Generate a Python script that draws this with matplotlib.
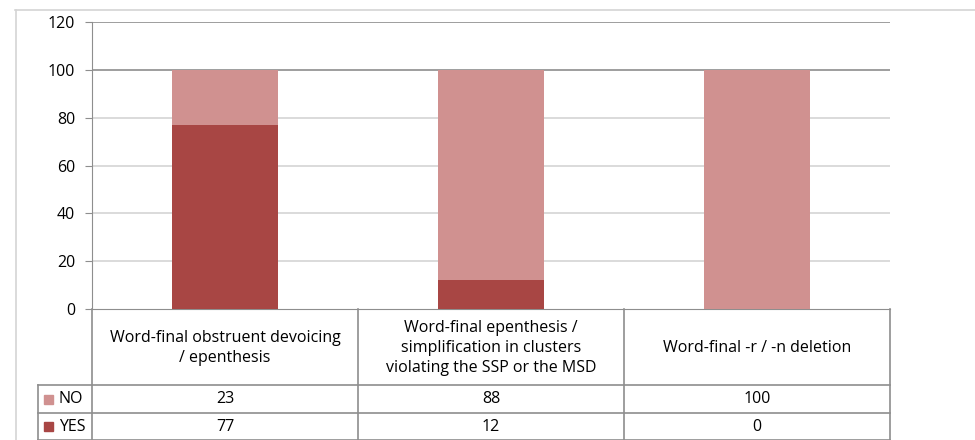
import matplotlib
matplotlib.use("Agg")
import matplotlib.pyplot as plt
from matplotlib.lines import Line2D
from matplotlib.patches import Rectangle

plt.rcParams['font.family'] = ['Open Sans', 'DejaVu Sans']

categories = ["Word-final obstruent devoicing\n/ epenthesis",
              "Word-final epenthesis /\nsimplification in clusters\nviolating the SSP or the MSD",
              "Word-final -r / -n deletion"]
series_names = ["NO", "YES"]
no_vals = [23, 88, 100]
yes_vals = [77, 12, 0]
yticks = [0, 20, 40, 60, 80, 100, 120]

c_no = "#d09190"
c_yes = "#a84644"
grid_light = "#d4d4d4"
grid_dark = "#8e8e8e"
tc = "#8e8e8e"
fs = 11.5

W, H = 975, 440
fig = plt.figure(figsize=(W / 100, H / 100), dpi=100)

# pixel helpers (pixels from top-left)
def fx(px): return px / W
def fy(py): return 1 - py / H

x0, x1 = 92, 890
ytop, ybot = 22, 309
ax = fig.add_axes([fx(x0), fy(ybot), fx(x1) - fx(x0), fy(ytop) - fy(ybot)])
ax.set_xlim(-0.5, 2.5)
ax.set_ylim(0, 120)
xs = range(len(categories))
ax.bar(xs, yes_vals, width=0.395, color=c_yes, zorder=3)
ax.bar(xs, no_vals, width=0.395, bottom=yes_vals, color=c_no, zorder=3)
for v in yticks[1:]:
    col = grid_dark if v >= 100 else grid_light
    ax.axhline(v, color=col, lw=1.2, zorder=1)
for s in ["top", "right"]:
    ax.spines[s].set_visible(False)
ax.spines["left"].set_color(tc)
ax.spines["bottom"].set_color(tc)
ax.set_yticks(yticks)
ax.set_yticklabels([str(v) for v in yticks], fontsize=fs)
ax.tick_params(axis="y", length=5, color=tc, pad=7)
ax.set_xticks([])

# frame lines around chart
fig.add_artist(Line2D([fx(15), 1], [fy(10), fy(10)], color=grid_light, lw=1.2))
fig.add_artist(Line2D([fx(16), fx(16)], [fy(10), 0], color=grid_light, lw=1.2))

# data table below the plot
cols = [x0, 358, 624, x1]
rows = [ybot, 385, 413, 440]
def hline(y, xa, xb):
    fig.add_artist(Line2D([fx(xa), fx(xb)], [fy(y), fy(y)], color=tc, lw=1.2))
def vline(x, ya, yb):
    fig.add_artist(Line2D([fx(x), fx(x)], [fy(ya), fy(yb)], color=tc, lw=1.2))

hline(rows[1], 38, x1)
hline(rows[2], 38, x1)
hline(rows[3] - 0.5, 38, x1)
for c in cols:
    vline(c, ybot, H)
vline(38, rows[1], H)

for i, cat in enumerate(categories):
    cx = (cols[i] + cols[i + 1]) / 2
    fig.text(fx(cx), fy((rows[0] + rows[1]) / 2 + 1), cat, ha="center", va="center",
             fontsize=fs, linespacing=1.35)
for r, (name, vals, col) in enumerate(zip(series_names, [no_vals, yes_vals], [c_no, c_yes])):
    cy = (rows[r + 1] + rows[r + 2]) / 2
    fig.add_artist(Rectangle((fx(44), fy(cy + 4.5)), 9 / W, 9 / H, color=col))
    fig.text(fx(59), fy(cy), name, ha="left", va="center", fontsize=fs)
    for i, v in enumerate(vals):
        cx = (cols[i] + cols[i + 1]) / 2
        fig.text(fx(cx), fy(cy), str(v), ha="center", va="center", fontsize=fs)

fig.savefig("out.png", dpi=100)
